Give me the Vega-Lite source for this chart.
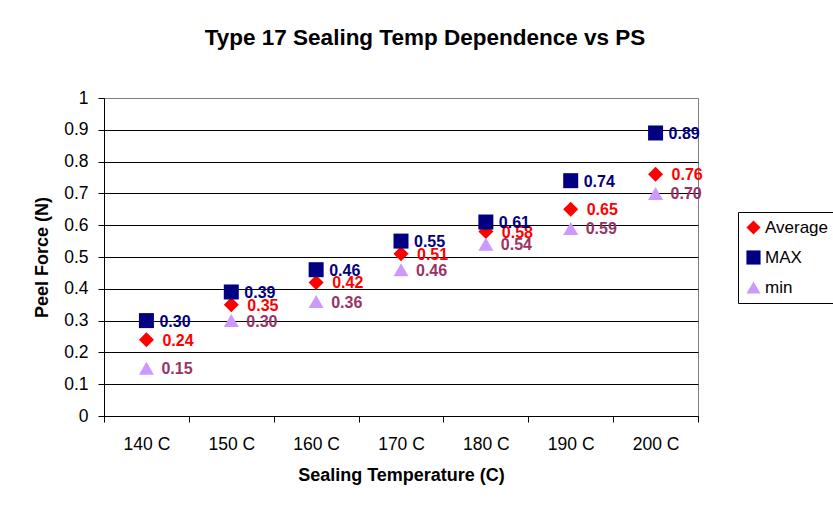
{
  "$schema": "https://vega.github.io/schema/vega-lite/v6.json",
  "autosize": {"type": "none"},
  "padding": {"left": 104, "top": 98, "right": 135, "bottom": 90},
  "width": 594,
  "height": 318,
  "background": "white",
  "title": {
    "text": "Type 17 Sealing Temp Dependence vs PS",
    "fontSize": 22.5,
    "fontWeight": "bold",
    "color": "black",
    "anchor": "middle",
    "dx": 24,
    "offset": 40
  },
  "config": {
    "font": "Liberation Sans",
    "view": {"stroke": "#808080", "strokeWidth": 1},
    "legend": {
      "title": null,
      "orient": "none",
      "legendX": 634,
      "legendY": 114,
      "strokeColor": "black",
      "fillColor": "white",
      "padding": 7,
      "rowPadding": 12,
      "symbolSize": 200,
      "symbolStrokeWidth": 0,
      "symbolOpacity": 1,
      "labelFontSize": 17,
      "labelColor": "black",
      "labelOffset": 3,
      "labelLimit": 200
    }
  },
  "data": {
    "values": [
      {"temp": "140 C", "series": "Average", "value": 0.24},
      {"temp": "150 C", "series": "Average", "value": 0.35},
      {"temp": "160 C", "series": "Average", "value": 0.42},
      {"temp": "170 C", "series": "Average", "value": 0.51},
      {"temp": "180 C", "series": "Average", "value": 0.58},
      {"temp": "190 C", "series": "Average", "value": 0.65},
      {"temp": "200 C", "series": "Average", "value": 0.76},
      {"temp": "140 C", "series": "MAX", "value": 0.30},
      {"temp": "150 C", "series": "MAX", "value": 0.39},
      {"temp": "160 C", "series": "MAX", "value": 0.46},
      {"temp": "170 C", "series": "MAX", "value": 0.55},
      {"temp": "180 C", "series": "MAX", "value": 0.61},
      {"temp": "190 C", "series": "MAX", "value": 0.74},
      {"temp": "200 C", "series": "MAX", "value": 0.89},
      {"temp": "140 C", "series": "min", "value": 0.15},
      {"temp": "150 C", "series": "min", "value": 0.30},
      {"temp": "160 C", "series": "min", "value": 0.36},
      {"temp": "170 C", "series": "min", "value": 0.46},
      {"temp": "180 C", "series": "min", "value": 0.54},
      {"temp": "190 C", "series": "min", "value": 0.59},
      {"temp": "200 C", "series": "min", "value": 0.70}
    ]
  },
  "encoding": {
    "x": {
      "field": "temp",
      "type": "ordinal",
      "scale": {"paddingInner": 0, "paddingOuter": 0},
      "axis": {
        "title": "Sealing Temperature (C)",
        "titleFontSize": 18,
        "titleFontWeight": "bold",
        "titleColor": "black",
        "titlePadding": 14,
        "labelAngle": 0,
        "labelFontSize": 17.5,
        "labelColor": "black",
        "labelPadding": 13,
        "tickBand": "extent",
        "tickSize": 6,
        "tickColor": "black",
        "domainColor": "black",
        "grid": false
      }
    },
    "y": {
      "field": "value",
      "type": "quantitative",
      "scale": {"domain": [0, 1], "nice": false},
      "axis": {
        "title": "Peel Force (N)",
        "titleFontSize": 18,
        "titleFontWeight": "bold",
        "titleColor": "black",
        "titlePadding": 12,
        "values": [0, 0.1, 0.2, 0.3, 0.4, 0.5, 0.6, 0.7, 0.8, 0.9, 1],
        "format": "~g",
        "labelFontSize": 17.5,
        "labelColor": "black",
        "labelPadding": 10,
        "tickSize": 6,
        "tickColor": "black",
        "domainColor": "black",
        "grid": true,
        "gridColor": {"condition": {"test": "datum.value == 1", "value": "#808080"}, "value": "black"},
        "gridOpacity": 1
      }
    }
  },
  "layer": [
    {
      "mark": {"type": "point", "filled": true, "opacity": 1, "size": 225},
      "encoding": {
        "shape": {
          "field": "series",
          "type": "nominal",
          "scale": {"domain": ["Average", "MAX", "min"], "range": ["diamond", "square", "triangle-up"]}
        },
        "color": {
          "field": "series",
          "type": "nominal",
          "scale": {"domain": ["Average", "MAX", "min"], "range": ["#FF0000", "#000080", "#CC99FF"]}
        }
      }
    },
    {
      "transform": [{"filter": "datum.series == 'Average'"}],
      "mark": {"type": "text", "align": "left", "baseline": "middle", "dx": 16, "dy": 1, "fontSize": 16, "fontWeight": "bold", "color": "#FF0000"},
      "encoding": {
        "text": {"field": "value", "type": "quantitative", "format": ".2f"}
      }
    },
    {
      "transform": [{"filter": "datum.series == 'MAX'"}],
      "mark": {"type": "text", "align": "left", "baseline": "middle", "dx": 13, "dy": 1, "fontSize": 16, "fontWeight": "bold", "color": "#000080"},
      "encoding": {
        "text": {"field": "value", "type": "quantitative", "format": ".2f"}
      }
    },
    {
      "transform": [{"filter": "datum.series == 'min'"}],
      "mark": {"type": "text", "align": "left", "baseline": "middle", "dx": 15, "dy": 1, "fontSize": 16, "fontWeight": "bold", "color": "#993366"},
      "encoding": {
        "text": {"field": "value", "type": "quantitative", "format": ".2f"}
      }
    }
  ]
}
